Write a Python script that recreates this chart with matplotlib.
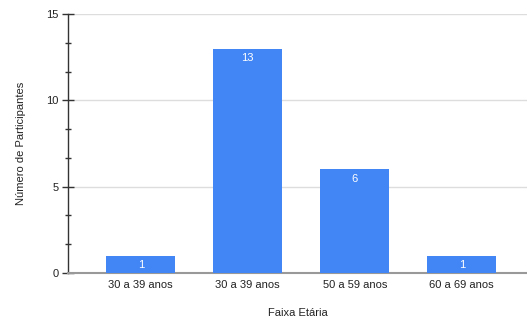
import matplotlib
matplotlib.use("Agg")
import matplotlib.pyplot as plt
from matplotlib.ticker import MultipleLocator

plt.rcParams['font.family'] = ['Liberation Sans', 'DejaVu Sans']

categories = ["30 a 39 anos", "30 a 39 anos", "50 a 59 anos", "60 a 69 anos"]
counts = [1, 13, 6, 1]

bar_color = "#4285F4"

fig = plt.figure(figsize=(5.27, 3.21), dpi=100)
ax = fig.add_axes([68 / 527, 1 - 273 / 321, 1 - 68 / 527, (273 - 14) / 321])

x = range(len(categories))
bars = ax.bar(x, counts, width=0.645, color=bar_color, zorder=3)
for b, v in zip(bars, counts):
    ax.text(b.get_x() + b.get_width() / 2, v - 0.25, str(v), ha="center", va="top",
            color="white", fontsize=8, zorder=4)

ax.set_xlim(-0.68, 3.61)
ax.set_ylim(0, 15)
ax.set_xticks(list(x))
ax.set_xticklabels(categories, fontsize=8, color="#222222")
ax.yaxis.set_major_locator(MultipleLocator(5))
ax.yaxis.set_minor_locator(MultipleLocator(5 / 3))
ax.tick_params(axis="y", which="major", direction="inout", length=8, width=1,
               labelsize=8, colors="#333333", labelcolor="#222222", pad=3)
ax.tick_params(axis="y", which="minor", direction="inout", length=5, width=1, colors="#333333")
ax.tick_params(axis="x", length=0, pad=5)

ax.grid(axis="y", which="major", color="#dddddd", linewidth=1, zorder=0)
for s in ["top", "right"]:
    ax.spines[s].set_visible(False)
ax.spines["left"].set_color("#333333")
ax.spines["left"].set_linewidth(1)
ax.spines["bottom"].set_color("#999999")
ax.spines["bottom"].set_linewidth(1.5)

ax.set_ylabel("Número de Participantes", fontsize=8, color="#222222", labelpad=14)
ax.set_xlabel("Faixa Etária", fontsize=8, color="#222222", labelpad=13)

fig.savefig("out.png", dpi=100)
